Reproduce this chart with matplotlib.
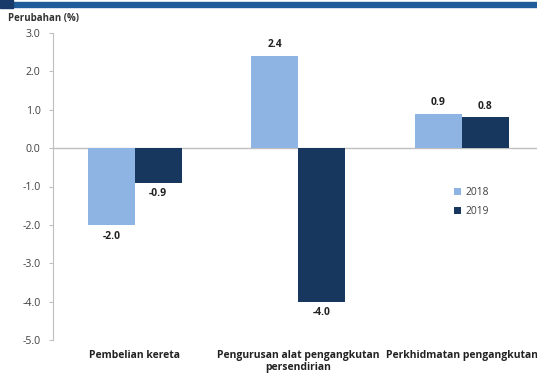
import matplotlib.pyplot as plt
from matplotlib.patches import Rectangle
import numpy as np

categories = ["Pembelian kereta", "Pengurusan alat pengangkutan\npersendirian",
              "Perkhidmatan pengangkutan"]
years = ["2018", "2019"]
values_2018 = [-2.0, 2.4, 0.9]
values_2019 = [-0.9, -4.0, 0.8]
yticks = [3.0, 2.0, 1.0, 0.0, -1.0, -2.0, -3.0, -4.0, -5.0]

c2018 = "#8db4e2"
c2019 = "#17375e"

plt.rcParams["font.family"] = ["Open Sans", "DejaVu Sans"]

W, H = 537, 374
fig = plt.figure(figsize=(W / 100, H / 100), dpi=100)

# header strip
fig.patches.append(Rectangle((12 / W, 1 - 7 / H), 1, 5 / H, transform=fig.transFigure,
                             color="#1f5c99", zorder=0))
fig.patches.append(Rectangle((0, 1 - 8 / H), 13 / W, 8 / H, transform=fig.transFigure,
                             color="#173a6b", zorder=1))

ax_left, ax_right = 53 / W, 543.5 / W
ax_top, ax_bot = 33 / H, 340 / H
ax = fig.add_axes([ax_left, 1 - ax_bot, ax_right - ax_left, ax_bot - ax_top])

x = np.arange(len(categories))
w = 0.287
b1 = ax.bar(x - w / 2, values_2018, w, color=c2018, label=years[0], zorder=2)
b2 = ax.bar(x + w / 2, values_2019, w, color=c2019, label=years[1], zorder=2)

for bars in (b1, b2):
    for bar in bars:
        v = bar.get_height()
        off = 0.15 if v >= 0 else -0.15
        ax.text(bar.get_x() + bar.get_width() / 2, v + off, f"{v:.1f}",
                ha="center", va="bottom" if v >= 0 else "top",
                fontsize=7.4, fontweight="bold", color="#222222")

ax.set_xlim(-0.5, 2.5)
ax.set_ylim(-5.0, 3.0)
ax.set_yticks(yticks)
ax.set_yticklabels([f"{t:.1f}" for t in yticks], fontsize=7.6, color="#404040")
ax.axhline(0, color="#bfbfbf", lw=1, zorder=1)

for s in ("top", "right", "bottom"):
    ax.spines[s].set_visible(False)
ax.spines["left"].set_color("#bfbfbf")
ax.tick_params(axis="y", length=3, color="#bfbfbf", pad=6)
ax.tick_params(axis="x", length=0)
ax.set_xticks([])

for xi, name in zip(x, categories):
    ax.text(xi, -5.27, name, ha="center", va="top", fontsize=7.5,
            fontweight="bold", color="#222222", linespacing=1.05)

fig.text(8 / W, 1 - 18 / H, "Perubahan (%)", fontsize=7, fontweight="bold",
         color="#333333", va="center")

ax.legend(loc="upper left", bbox_to_anchor=((445 - 53) / (543.5 - 53), 1 - (178 - 33) / 307),
          frameon=False, fontsize=7.4, handlelength=0.7, handleheight=0.7,
          handletextpad=0.4, labelspacing=0.8, labelcolor="#404040")

fig.savefig("out.png", dpi=100)
